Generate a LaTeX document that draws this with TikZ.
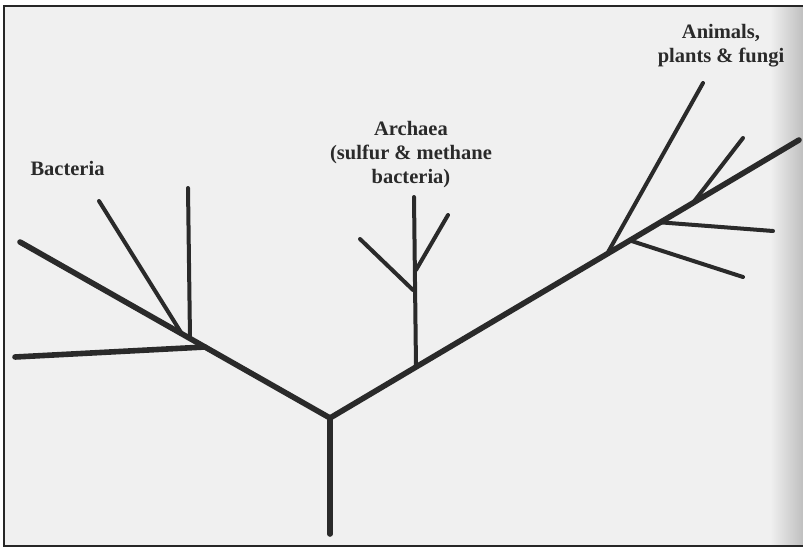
\documentclass[tikz,border=0pt]{standalone}
\usepackage{fontspec}
\setmainfont{Liberation Serif}
\usetikzlibrary{calc}
\definecolor{paper}{HTML}{F0F0F0}
\definecolor{ink}{HTML}{2A2A2A}
\tikzset{
  thick branch/.style={draw=ink, line width=5.6pt, line cap=round, line join=round},
  thin branch/.style={draw=ink, line width=4pt, line cap=round, line join=round},
  label text/.style={text=ink, inner sep=0pt, align=center,
    font=\fontsize{20.5}{24}\selectfont\bfseries},
  frame line/.style={draw=black!85, line width=2pt}
}
\begin{document}
\begin{tikzpicture}[x=1pt, y=-1pt]
\useasboundingbox (0,0) rectangle (803,549);
% paper
\fill[white] (0,0) rectangle (803,549);
\fill[paper] (4,6) rectangle (803,546);
\shade[left color=paper, right color=black!25] (770,6) rectangle (803,546);
\draw[frame line] (803,6) -- (4,6) -- (4,546) -- (803,546);

% coordinates
\coordinate (root) at (330,534);
\coordinate (J) at (330,418);
% bacteria
\coordinate (bEnd) at (20,242);
\coordinate (bJ) at (205,347);
\coordinate (bH) at (15,357);
\coordinate (bVj) at (190,338.5);
\coordinate (bV) at (188,188);
\coordinate (bDj) at (182,334);
\coordinate (bD) at (99,201);
% archaea
\coordinate (aJ) at (416,367);
\coordinate (aV) at (414,197);
\coordinate (aLj) at (413,290);
\coordinate (aL) at (360,239);
\coordinate (aRj) at (416,270);
\coordinate (aR) at (448,215);
% eukaryotes
\coordinate (eEnd) at (799,140);
\coordinate (eJ) at (607,254);
\coordinate (eLong) at (703,83);
\coordinate (e1j) at (693,202.8);
\coordinate (e1) at (743,138);
\coordinate (e2j) at (660,222.3);
\coordinate (e2) at (773,231);
\coordinate (e3j) at (630,240.5);
\coordinate (e3) at (743,277);

% trunk and main branches
\draw[thick branch] (root) -- (J);
\draw[thick branch] (J) -- (bJ) -- (bEnd);
\draw[thick branch] (J) -- (aJ) -- (eJ) -- (eEnd);
% bacteria side branches
\draw[thick branch] (bJ) -- (bH);
\draw[thin branch] (bVj) -- (bV);
\draw[thin branch] (bDj) -- (bD);
% archaea branches
\draw[thin branch] (aJ) -- (aV);
\draw[thin branch] (aLj) -- (aL);
\draw[thin branch] (aRj) -- (aR);
% eukaryote branches
\draw[thin branch] (eJ) -- (eLong);
\draw[thin branch] (e1j) -- (e1);
\draw[thin branch] (e2j) -- (e2);
\draw[thin branch] (e3j) -- (e3);

% labels
\node[label text, anchor=base] (bacteria) at (67.5,175) {Bacteria};
\node[label text, anchor=north] (archaea) at (411,121) {Archaea\\(sulfur \& methane\\bacteria)};
\node[label text, anchor=north] (eukarya) at (721,24) {Animals,\\plants \& fungi};
\end{tikzpicture}
\end{document}
